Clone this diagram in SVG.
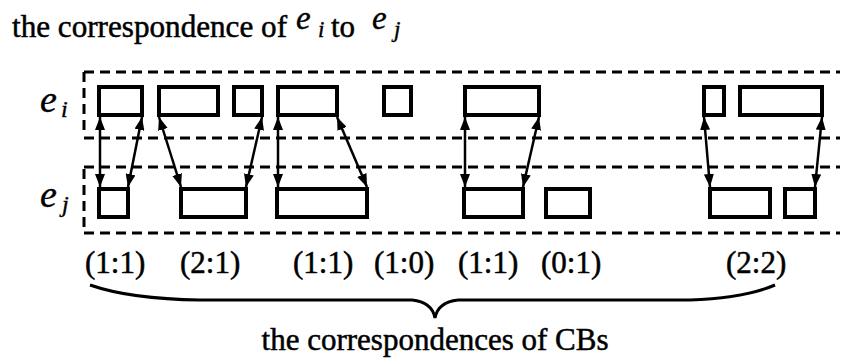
<svg xmlns="http://www.w3.org/2000/svg" width="842" height="360" viewBox="0 0 842 360">
<style>
.t{font-family:"Liberation Serif","Times New Roman",serif;fill:#000;stroke:#000;stroke-width:0.5}
.it{font-family:"Liberation Serif","Times New Roman",serif;font-style:italic;fill:#000;stroke:#000;stroke-width:0.4}
.box{fill:none;stroke:#000;stroke-width:4}
.dash{fill:none;stroke:#000;stroke-width:3;stroke-dasharray:10 6}
.arr{stroke:#000;stroke-width:2.5;marker-start:url(#ah);marker-end:url(#ah)}
.brace{fill:none;stroke:#000;stroke-width:3}
</style>
<defs>
<marker id="ah" markerUnits="userSpaceOnUse" markerWidth="14" markerHeight="10" refX="13" refY="5" orient="auto-start-reverse">
<path d="M0,0 L13,5 L0,10 z" fill="#000"/>
</marker>
</defs>
<rect width="842" height="360" fill="#fff"/>

<g id="title">
<text class="t" x="12" y="37" font-size="31" textLength="275" lengthAdjust="spacingAndGlyphs">the correspondence of</text>
<text class="it" x="296" y="29" font-size="33">e</text>
<text class="it" x="318" y="37" font-size="23">i</text>
<text class="t" x="331" y="37" font-size="31">to</text>
<text class="it" x="372" y="29" font-size="33">e</text>
<text class="it" x="394" y="37" font-size="23">j</text>
</g>

<g id="frame">
<line class="dash" x1="84" y1="72" x2="840" y2="72"/>
<line class="dash" x1="84" y1="138" x2="840" y2="138"/>
<line class="dash" x1="84" y1="167" x2="840" y2="167"/>
<line class="dash" x1="84" y1="233" x2="840" y2="233"/>
<line class="dash" x1="84" y1="72" x2="84" y2="136"/>
<line class="dash" x1="84" y1="169" x2="84" y2="233"/>
</g>

<g id="label-ei">
<text class="it" x="40" y="112" font-size="38">e</text>
<text class="it" x="61" y="117" font-size="24">i</text>
</g>
<g id="label-ej">
<text class="it" x="40" y="207" font-size="38">e</text>
<text class="it" x="62" y="212" font-size="24">j</text>
</g>

<g id="ei-cb1"><rect class="box" x="99" y="87" width="43" height="28"/></g>
<g id="ei-cb2"><rect class="box" x="159" y="87" width="59" height="28"/></g>
<g id="ei-cb3"><rect class="box" x="234" y="87" width="28" height="28"/></g>
<g id="ei-cb4"><rect class="box" x="278" y="87" width="59" height="28"/></g>
<g id="ei-cb5"><rect class="box" x="384" y="87" width="27" height="28"/></g>
<g id="ei-cb6"><rect class="box" x="465" y="87" width="74" height="28"/></g>
<g id="ei-cb7"><rect class="box" x="704" y="87" width="20" height="28"/></g>
<g id="ei-cb8"><rect class="box" x="740" y="87" width="82" height="28"/></g>

<g id="ej-cb1"><rect class="box" x="99" y="189" width="29" height="28"/></g>
<g id="ej-cb2"><rect class="box" x="181" y="189" width="65" height="28"/></g>
<g id="ej-cb3"><rect class="box" x="277" y="189" width="90" height="28"/></g>
<g id="ej-cb4"><rect class="box" x="464" y="189" width="59" height="28"/></g>
<g id="ej-cb5"><rect class="box" x="546" y="189" width="44" height="28"/></g>
<g id="ej-cb6"><rect class="box" x="710" y="189" width="60" height="28"/></g>
<g id="ej-cb7"><rect class="box" x="785" y="189" width="30" height="28"/></g>

<g id="connectors">
<line class="arr" x1="100" y1="117" x2="100" y2="187"/>
<line class="arr" x1="142" y1="117" x2="128" y2="187"/>
<line class="arr" x1="159" y1="117" x2="181" y2="187"/>
<line class="arr" x1="262" y1="117" x2="246" y2="187"/>
<line class="arr" x1="278" y1="117" x2="278" y2="187"/>
<line class="arr" x1="337" y1="117" x2="367" y2="187"/>
<line class="arr" x1="465" y1="117" x2="465" y2="187"/>
<line class="arr" x1="539" y1="117" x2="523" y2="187"/>
<line class="arr" x1="704" y1="117" x2="710" y2="187"/>
<line class="arr" x1="822" y1="117" x2="815" y2="187"/>
</g>

<g id="ratios">
<text class="t" x="85" y="273" font-size="31">(1:1)</text>
<text class="t" x="180" y="273" font-size="31">(2:1)</text>
<text class="t" x="293" y="273" font-size="31">(1:1)</text>
<text class="t" x="374" y="273" font-size="31">(1:0)</text>
<text class="t" x="458" y="273" font-size="31">(1:1)</text>
<text class="t" x="541" y="273" font-size="31">(0:1)</text>
<text class="t" x="726" y="273" font-size="31">(2:2)</text>
</g>

<g id="brace">
<path class="brace" d="M90,285 Q130,299 200,300 L412,300 Q432,302 435,318 Q438,302 458,300 L690,300 Q745,298 775,285"/>
</g>

<g id="caption">
<text class="t" x="435" y="350" font-size="31" text-anchor="middle">the correspondences of CBs</text>
</g>
</svg>
